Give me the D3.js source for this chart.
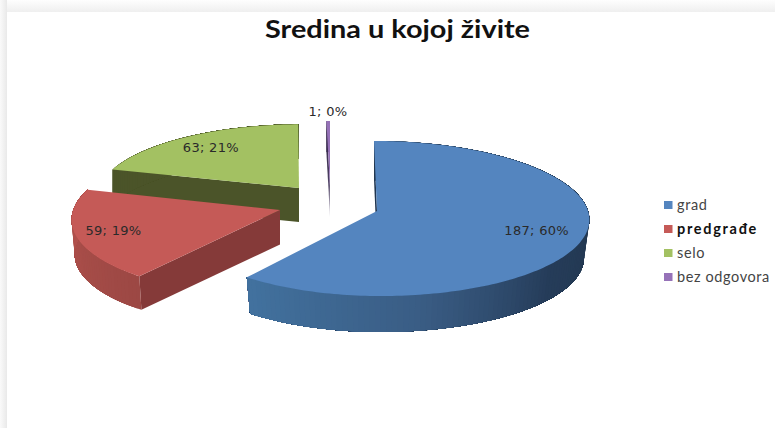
<!DOCTYPE html>
<html>
  <head>
    <meta charset="utf-8">
    <style>
      body { margin: 0; background-color: white; }
      svg { display: block; }
    </style>
    <script src="https://d3js.org/d3.v7.min.js"></script>
  </head>
  <body>
    <script>
    var categories = ["grad", "predgrađe", "selo", "bez odgovora"];
    var values = [187, 59, 63, 1];
    var percents = [60, 19, 21, 0];
    var chartTitle = "Sredina u kojoj živite";

    var width = 775;
    var height = 428;

    // top faces, then the flat cut walls
    var color = d3.scaleOrdinal().domain(categories).range(["#5485BF", "#C55A57", "#A3C162", "#9672B8"]);
    var wallColor = d3.scaleOrdinal().domain(categories).range(["#1F3550", "#853A39", "#4B5429", "#3A2C50"]);

    // shade of the curved outer wall, by angle in degrees
    var rimShade = {
      "grad": d3.scaleLinear().domain([90, 130, 170, 217]).range(["#233850", "#253C59", "#3A5D85", "#42729F"]).clamp(true),
      "predgrađe": d3.scaleLinear().domain([217, 290]).range(["#9C4844", "#B8544F"]).clamp(true),
      "selo": d3.scaleLinear().domain([285, 360]).range(["#4B5429", "#4B5429"]).clamp(true),
      "bez odgovora": d3.scaleLinear().domain([358, 360]).range(["#3A2C50", "#3A2C50"]).clamp(true)
    };

    // each exploded slice: apex, scale, left side squeeze, sideways lean, extrusion, bottom shrink, label radius
    var sliceLayout = {
      "grad": { cx: 377, cy: 211, scale: 1, leftX: 0.963, skew: 0.043, depth: 38, bottom: 0.975, labelAt: 0.775 },
      "predgrađe": { cx: 280, cy: 210, scale: 1, leftX: 0.98, skew: -0.08, depth: 34.5, bottom: 0.985, labelAt: 0.82 },
      "selo": { cx: 299, cy: 188, scale: 0.91, leftX: 1.04, skew: -0.045, depth: 34, bottom: 1, labelAt: 0.78 },
      "bez odgovora": { cx: 330, cy: 186, scale: 0.93, leftX: 1, skew: 0, depth: 31, bottom: 1, labelAt: 1.16 }
    };
    var drawOrder = ["selo", "bez odgovora", "predgrađe", "grad"];

    var radiusX = 211;
    var radiusY = 76.8;
    var persp = 0.097;

    const svg = d3.select("body").append("svg")
      .attr("width", width)
      .attr("height", height);

    var defs = svg.append("defs");
    var fadeLeft = defs.append("linearGradient").attr("id", "fadeLeft");
    fadeLeft.append("stop").attr("offset", "0%").attr("stop-color", "#fafafa");
    fadeLeft.append("stop").attr("offset", "100%").attr("stop-color", "#e9e9e9");
    var fadeTop = defs.append("linearGradient").attr("id", "fadeTop")
      .attr("x1", 0).attr("x2", 0).attr("y1", 0).attr("y2", 1);
    fadeTop.append("stop").attr("offset", "0%").attr("stop-color", "#fefefe");
    fadeTop.append("stop").attr("offset", "100%").attr("stop-color", "#efefef");
    var wallFade = defs.append("linearGradient").attr("id", "wallFade")
      .attr("x1", 0).attr("x2", 0).attr("y1", 0).attr("y2", 1);
    wallFade.append("stop").attr("offset", "0%").attr("stop-color", "#2E2440");
    wallFade.append("stop").attr("offset", "60%").attr("stop-color", "#4A3D60");
    wallFade.append("stop").attr("offset", "100%").attr("stop-color", "#D0CCD6");

    // sheet shadow
    svg.append("rect").attr("width", width).attr("height", height).attr("fill", "white");
    svg.append("rect").attr("x", 7).attr("y", 0).attr("width", width - 7).attr("height", 12).attr("fill", "url(#fadeTop)");
    svg.append("rect").attr("x", 0).attr("y", 0).attr("width", 7).attr("height", height).attr("fill", "url(#fadeLeft)");

    svg.append("text")
      .attr("x", 397.5)
      .attr("y", 38)
      .attr("text-anchor", "middle")
      .attr("font-family", "Lato")
      .attr("font-weight", 700)
      .attr("font-size", 25)
      .attr("textLength", 265)
      .attr("lengthAdjust", "spacingAndGlyphs")
      .attr("fill", "#111")
      .text(chartTitle);

    var pie = d3.pie().sort(null).value(function(d) { return d.value; });
    var slices = pie(categories.map(function(c, i) {
      return { name: c, value: values[i], percent: percents[i] };
    }));

    function project(name, angle, f, isBottom) {
      var l = sliceLayout[name];
      var s = 1 / (1 + persp * f * Math.cos(angle));
      var dx = radiusX * f * Math.sin(angle) * s * l.scale;
      var dy = -radiusY * f * Math.cos(angle) * s * l.scale;
      if (dx < 0) dx *= l.leftX;
      dx += dy * l.skew;
      if (isBottom) {
        return [l.cx + dx * l.bottom, l.cy + l.depth + dy * l.bottom];
      }
      return [l.cx + dx, l.cy + dy];
    }

    function rimPoints(name, a0, a1, isBottom) {
      var n = Math.max(2, Math.ceil((a1 - a0) / 0.02));
      return d3.range(n + 1).map(function(i) {
        return project(name, a0 + (a1 - a0) * i / n, 1, isBottom);
      });
    }

    var line = d3.line().curve(d3.curveLinearClosed);
    var byName = {};
    slices.forEach(function(d) { byName[d.data.name] = d; });

    var pieGroup = svg.append("g").attr("class", "slices");

    drawOrder.forEach(function(name) {
      var d = byName[name];
      var g = pieGroup.append("g");

      // flat wall along the start of the slice
      g.append("path")
        .attr("d", line([
          project(name, d.startAngle, 0, false),
          project(name, d.startAngle, 1, false),
          project(name, d.startAngle, 1, true),
          project(name, d.startAngle, 0, true)
        ]))
        .attr("fill", name === "bez odgovora" ? "url(#wallFade)" : wallColor(name));

      // curved outer wall: each piece runs on to the end of the slice and the
      // next piece paints over it, so no seams show between the shades
      var stripCount = Math.max(1, Math.ceil((d.endAngle - d.startAngle) / 0.025));
      d3.range(stripCount).forEach(function(i) {
        var a0 = d.startAngle + (d.endAngle - d.startAngle) * i / stripCount;
        var a1 = d.endAngle;
        var shade = rimShade[name](a0 * 180 / Math.PI);
        var top = rimPoints(name, a0, a1, false);
        var bottom = rimPoints(name, a0, a1, true).reverse();
        g.append("path")
          .attr("d", line(top.concat(bottom)))
          .attr("fill", shade);
      });

      // top face
      var face = [project(name, 0, 0, false)].concat(rimPoints(name, d.startAngle, d.endAngle, false));
      g.append("path")
        .attr("d", line(face))
        .attr("fill", color(name));
    });

    svg.append("g").attr("class", "labels")
      .selectAll("text")
      .data(slices)
      .enter().append("text")
      .attr("x", function(d) {
        return project(d.data.name, (d.startAngle + d.endAngle) / 2, sliceLayout[d.data.name].labelAt, false)[0];
      })
      .attr("y", function(d) {
        return project(d.data.name, (d.startAngle + d.endAngle) / 2, sliceLayout[d.data.name].labelAt, false)[1];
      })
      .attr("dy", "0.35em")
      .attr("text-anchor", "middle")
      .attr("font-family", "DejaVu Sans")
      .attr("font-size", 13)
      .attr("letter-spacing", 0.3)
      .attr("fill", "#2a2a2a")
      .text(function(d) { return d.data.value + "; " + d.data.percent + "%"; });

    var legendY = d3.scalePoint().domain(categories).range([205, 277]);

    var legend = svg.append("g").attr("class", "legend")
      .selectAll("g")
      .data(categories)
      .enter().append("g")
      .attr("transform", function(d) { return "translate(664," + legendY(d) + ")"; });

    legend.append("rect")
      .attr("y", -4)
      .attr("width", 8.5)
      .attr("height", 8)
      .attr("fill", function(d) { return color(d); });

    legend.append("text")
      .attr("x", 13)
      .attr("dy", "0.35em")
      .attr("font-family", "Lato")
      .attr("font-size", 14.5)
      .attr("font-weight", function(d) { return d === "predgrađe" ? 700 : 400; })
      .attr("letter-spacing", function(d) { return d === "predgrađe" ? 1.7 : 0.6; })
      .attr("fill", function(d) { return d === "predgrađe" ? "#111" : "#444"; })
      .text(function(d) { return d; });
    </script>
  </body>
</html>
